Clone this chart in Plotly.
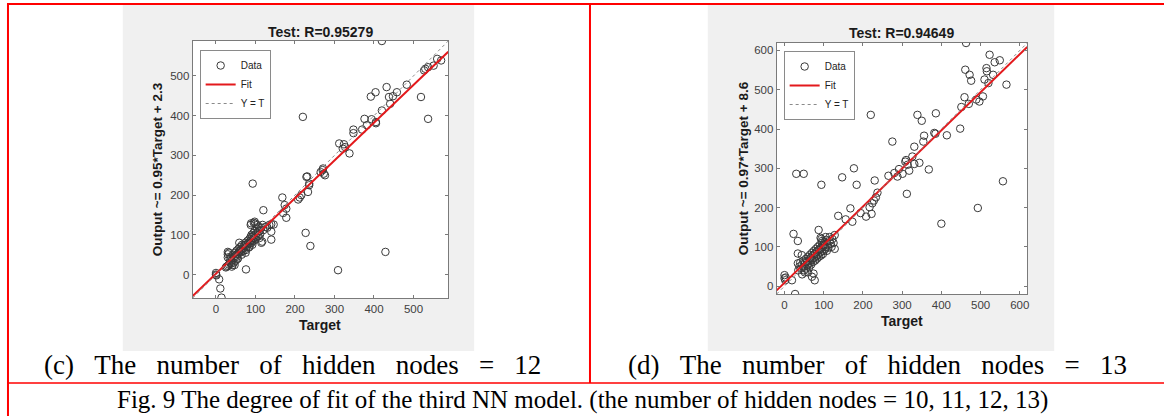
import plotly.graph_objects as go

W, H = 1166, 416

# ---------------- data: panel (c), hidden nodes = 12 ----------------
c_target = [0, 0, 1, 8, 11, 14, 76, 309, 429, 227, 239, 93, 120, 220, 420,
            168, 178, 174, 170, 178, 140, 146, 140, 140, 117,
            212, 216, 208, 231, 236, 233, 229, 236,
            265, 270, 273, 276, 271,
            312, 324, 327, 321, 338,
            348, 348, 370, 376, 382, 394, 405, 405,
            392, 404, 420, 432, 438, 448, 441, 458, 483,
            519, 537, 527, 530, 537, 551, 560, 570,
            27, 30, 33, 35, 38, 42, 30, 30, 30, 33, 35, 38, 40, 43, 45, 48, 50, 52, 53, 55,
            57, 58, 60, 62, 63, 65, 66, 68, 70, 70, 72, 74, 75, 76, 78, 80, 80, 82, 83, 85,
            86, 88, 88, 90, 90, 92, 93, 95, 95, 97, 98, 100, 100, 102, 104, 105, 107, 108, 110, 112,
            115, 118, 120, 125, 130, 135, 88, 96, 100, 105, 92, 85, 110, 115, 59, 50, 45, 55, 65, 75,
            40, 25, 89, 98, 47, 55]
c_output = [0, 4, -2, -12, -35, -58, 13, 11, 57, 105, 72, 229, 162, 397, 588,
            194, 166, 175, 155, 143, 127, 126, 108, 88, 83,
            194, 200, 189, 247, 225, 208, 246, 229,
            258, 263, 254, 250, 267,
            330, 328, 321, 317, 305,
            365, 356, 365, 392, 376, 391, 384, 381,
            448, 459, 413, 472, 447, 449, 430, 459, 478,
            447, 392, 514, 518, 522, 526, 543, 539,
            20, 22, 25, 30, 28, 24, 43, 51, 57, 55, 40, 45, 35, 50, 42, 55, 48, 60, 45, 52,
            65, 58, 55, 70, 62, 58, 75, 65, 72, 60, 68, 80, 75, 62, 70, 85, 76, 80, 68, 90,
            78, 85, 95, 100, 80, 88, 96, 105, 85, 92, 110, 100, 88, 95, 115, 105, 98, 120, 110, 102,
            118, 125, 112, 120, 118, 125, 125, 130, 128, 125, 75, 70, 92, 80, 80, 35, 30, 40, 50, 55,
            20, 18, 129, 133, 24, 40]

# ---------------- data: panel (d), hidden nodes = 13 ----------------
d_target = [463, 220, 275, 339, 350, 386, 331, 356, 354, 382, 385, 414, 448, 451, 459, 461, 472, 476,
            470, 489, 497, 506, 515, 516, 510, 520, 523, 536, 532, 549, 566, 557, 493, 400, 312,
            292, 310, 308, 314, 326, 344, 331, 318, 301, 280, 265, 288, 368, 177,
            30, 49, 94, 147, 184, 230, 237, 233, 228, 224, 217, 222, 208, 194, 137, 168, 156, 173,
            23, 34, 19, 27, 0, 0, 2, 3, 74, 77, 70, 34, 34, 44, 87, 92, 94, 128,
            35, 38, 40, 42, 45, 48, 50, 50, 52, 55, 55, 57, 58, 60, 60, 62, 63, 65, 65, 67,
            68, 70, 70, 72, 73, 75, 75, 77, 78, 80, 80, 82, 83, 85, 85, 87, 88, 90, 90, 92,
            93, 95, 95, 97, 98, 100, 100, 102, 104, 105, 107, 108, 110, 112, 115, 118, 120, 122, 125, 128,
            60, 45, 52, 115, 105, 96]
d_output = [619, 436, 368, 436, 421, 440, 355, 383, 368, 390, 388, 384, 401, 456, 481, 551, 538, 523,
            464, 475, 470, 483, 555, 547, 526, 517, 589, 570, 538, 575, 513, 267, 199, 159, 235,
            298, 321, 317, 309, 330, 314, 311, 294, 286, 288, 281, 279, 297, 300,
            286, 286, 258, 277, 258, 269, 238, 226, 218, 211, 201, 184, 177, 186, 179, 198, 170, 164,
            133, 115, 15, -20, 28, 20, 15, 22, 32, 15, 24, 83, 58, 79, 143, 123, 120, 130,
            40, 50, 60, 45, 55, 65, 50, 40, 58, 70, 45, 62, 52, 75, 55, 65, 48, 80, 60, 72,
            55, 85, 68, 78, 62, 90, 72, 82, 65, 95, 75, 88, 70, 100, 80, 92, 75, 105, 85, 95,
            78, 110, 88, 100, 82, 105, 90, 112, 95, 100, 118, 90, 105, 98, 115, 108, 100, 120, 110, 95,
            35, 30, 35, 125, 125, 115]

c_fit = (0.95, 2.3)
d_fit = (0.97, 8.6)
c_lim = [-59, 588]
d_lim = [-20, 619]
c_ticks = [0, 100, 200, 300, 400, 500]
d_ticks = [0, 100, 200, 300, 400, 500, 600]
c_title = "Test: R=0.95279"
d_title = "Test: R=0.94649"
c_ylabel = "Output ~= 0.95*Target + 2.3"
d_ylabel = "Output ~= 0.97*Target + 8.6"
c_caption = "(c) The number of hidden nodes = 12"
d_caption = "(d) The number of hidden nodes = 13"
fig_caption = "Fig. 9 The degree of fit of the third NN model. (the number of hidden nodes = 10, 11, 12, 13)"


def px(x):
    return x / W


def py(y):
    return 1 - y / H


SANS = "Liberation Sans, Arial, sans-serif"
SERIF = "Liberation Serif, Times New Roman, serif"
MARK = "#3a3a3a"
RED = "#e3191c"

fig = go.Figure()


def add_panel(tx, oy, fit, lim, xa, ya, legend):
    fig.add_trace(go.Scatter(x=tx, y=oy, mode="markers", name="Data",
                             xaxis=xa, yaxis=ya, legend=legend,
                             marker=dict(symbol="circle-open", size=7.5, color=MARK,
                                         line=dict(width=1, color=MARK))))
    fx = [lim[0], lim[1]]
    fig.add_trace(go.Scatter(x=fx, y=[fit[0] * v + fit[1] for v in fx], mode="lines",
                             name="Fit", xaxis=xa, yaxis=ya, legend=legend,
                             line=dict(color=RED, width=2)))
    fig.add_trace(go.Scatter(x=fx, y=fx, mode="lines", name="Y = T",
                             xaxis=xa, yaxis=ya, legend=legend,
                             line=dict(color="#8a8a8a", width=1, dash="dot")))


add_panel(c_target, c_output, c_fit, c_lim, "x", "y", "legend")
add_panel(d_target, d_output, d_fit, d_lim, "x2", "y2", "legend2")

boxes = {
    "c": dict(x0=193, x1=449, y0=41, y1=298),
    "d": dict(x0=778, x1=1029, y0=43, y1=294),
}


def axis(lim, ticks, dom):
    return dict(range=lim, tickvals=ticks, ticks="inside", ticklen=3, tickcolor="#7a7a7a",
                showline=True, linecolor="#7a7a7a", linewidth=1, mirror="ticks",
                showgrid=False, zeroline=False, domain=dom, fixedrange=True,
                tickfont=dict(family=SANS, size=11.5, color="#404040"))


bc, bd = boxes["c"], boxes["d"]
fig.update_layout(
    width=W, height=H, margin=dict(l=0, r=0, t=0, b=0),
    paper_bgcolor="white", plot_bgcolor="white",
    xaxis=dict(axis(c_lim, c_ticks, [px(bc["x0"]), px(bc["x1"])]), anchor="y"),
    yaxis=dict(axis(c_lim, c_ticks, [py(bc["y1"]), py(bc["y0"])]), anchor="x"),
    xaxis2=dict(axis(d_lim, d_ticks, [px(bd["x0"]), px(bd["x1"])]), anchor="y2"),
    yaxis2=dict(axis(d_lim, d_ticks, [py(bd["y1"]), py(bd["y0"])]), anchor="x2"),
    legend=dict(x=px(200), y=py(50), xanchor="left", yanchor="top",
                bgcolor="white", bordercolor="#8a8a8a", borderwidth=1,
                font=dict(family=SANS, size=10, color="#222"), itemwidth=30,
                tracegroupgap=0),
    legend2=dict(x=px(785), y=py(51), xanchor="left", yanchor="top",
                 bgcolor="white", bordercolor="#8a8a8a", borderwidth=1,
                 font=dict(family=SANS, size=10, color="#222"), itemwidth=30,
                 tracegroupgap=0),
    showlegend=True,
)

shapes = []
# gray figure panels, with white axes areas on top
for gx0, gx1 in [(123, 475), (709, 1056)]:
    shapes.append(dict(type="rect", xref="paper", yref="paper", x0=px(gx0), x1=px(gx1),
                       y0=py(351), y1=py(5), fillcolor="#f0f0f0", line=dict(width=0), layer="below"))
for b in boxes.values():
    shapes.append(dict(type="rect", xref="paper", yref="paper", x0=px(b["x0"]), x1=px(b["x1"]),
                       y0=py(b["y1"]), y1=py(b["y0"]), fillcolor="white", line=dict(width=0), layer="below"))
# red table rules
for (x0, y0, x1, y1, w) in [(7, 4, 1166, 4, 2), (8, 4, 8, 416, 2),
                            (591, 4, 591, 383, 2), (7, 383, 1166, 383, 1.6)]:
    shapes.append(dict(type="line", xref="paper", yref="paper", x0=px(x0), y0=py(y0),
                       x1=px(x1), y1=py(y1), line=dict(color="#ff0000", width=w), layer="above"))
fig.update_layout(shapes=shapes)

ann = []


def text(x, y, s, size, family=SANS, bold=False, angle=0, color="#1a1a1a"):
    ann.append(dict(x=px(x), y=py(y), xref="paper", yref="paper", text=(f"<b>{s}</b>" if bold else s),
                    showarrow=False, xanchor="center", yanchor="middle", textangle=angle,
                    font=dict(family=family, size=size, color=color)))


text((bc["x0"] + bc["x1"]) / 2, 32, c_title, 14, bold=True)
text((bd["x0"] + bd["x1"]) / 2, 33, d_title, 14, bold=True)
text(158, (bc["y0"] + bc["y1"]) / 2, c_ylabel, 13.5, bold=True, angle=-90)
text(745, (bd["y0"] + bd["y1"]) / 2, d_ylabel, 13.5, bold=True, angle=-90)
text((bc["x0"] + bc["x1"]) / 2, 325, "Target", 14, bold=True)
text((bd["x0"] + bd["x1"]) / 2, 321, "Target", 14, bold=True)

NB = "\u00a0\u00a0\u00a0"
text(293.5, 365, c_caption.replace(" ", NB), 27, family=SERIF, color="black")
text(879.5, 365, d_caption.replace(" ", NB), 27, family=SERIF, color="black")
text(583.5, 400, fig_caption, 25, family=SERIF, color="black")
fig.update_layout(annotations=ann)

fig.write_html("out.html", config={"displayModeBar": False},
               post_script="document.body.style.margin='0';document.body.style.overflow='hidden';")
